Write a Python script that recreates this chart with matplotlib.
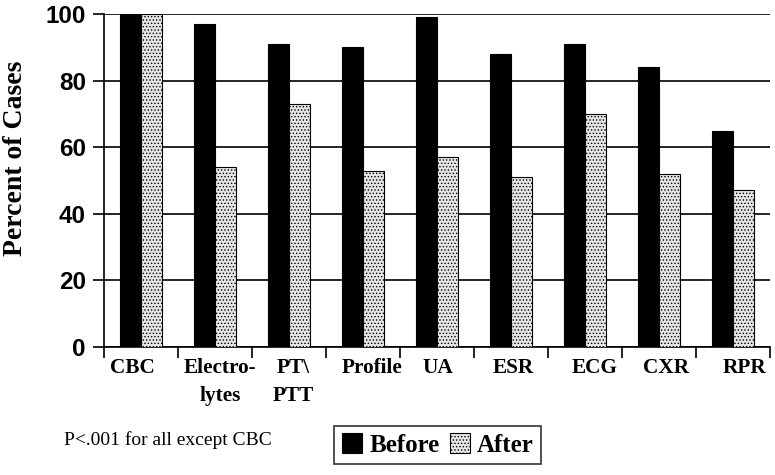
import numpy as np
import matplotlib
matplotlib.use('Agg')
import matplotlib.pyplot as plt

# data
tests = ['CBC', 'Electro-\nlytes', 'PT\\\nPTT', 'Profile', 'UA', 'ESR', 'ECG', 'CXR', 'RPR']
before = [100, 97, 91, 90, 99, 88, 91, 84, 65]
after = [100, 54, 73, 53, 57, 51, 70, 52, 47]
yticks = [0, 20, 40, 60, 80, 100]

# the scanned original has its category labels a little off centre (pixels)
label_shift = np.array([-8.5, 5, 4.5, 9, 1, 2, 10, 7, 11.5])

plt.rcParams['hatch.color'] = '#808080'
plt.rcParams['hatch.linewidth'] = 0.6

fig = plt.figure(figsize=(7.75, 4.75), dpi=100)
ax = fig.add_axes([104/775, 1 - 347/475, 666/775, 333/475])

x = np.arange(len(tests))
w = 0.284
ax.bar(x - w/2, before, w, color='black', edgecolor='black', linewidth=0.8, label='Before', zorder=3)
ax.bar(x + w/2, after, w, color='#e6e6e6', edgecolor='black', linewidth=0.8, hatch='.....', label='After', zorder=3)

ax.set_xlim(-0.5, len(tests) - 0.5)
ax.set_ylim(0, 100)
ax.set_yticks(yticks)
ax.set_yticklabels([str(v) for v in yticks], fontfamily='Liberation Sans', fontweight='bold', fontsize=17.5)
ax.yaxis.grid(True, color='black', linewidth=1.2, zorder=0)
ax.set_axisbelow(True)

# category ticks between groups, labels near the centre
ax.set_xticks(np.arange(len(tests) + 1) - 0.5)
ax.set_xticklabels([])
ax.set_xticks(x + label_shift / 74.0, minor=True)
ax.set_xticklabels(tests, minor=True, fontfamily='Liberation Serif', fontweight='bold', fontsize=15.3, linespacing=1.5, va='top')
ax.tick_params(axis='x', which='minor', length=0, pad=8)
ax.tick_params(axis='x', which='major', direction='out', length=8, width=1.2)
ax.tick_params(axis='y', direction='out', length=8, width=1.2, pad=5)

for s in ['top', 'right']:
    ax.spines[s].set_visible(False)
ax.spines['left'].set_linewidth(1.2)
ax.spines['bottom'].set_linewidth(1.2)

fig.text(16/775, 1 - 158/475, 'Percent of Cases', rotation=90, ha='center', va='center',
         fontfamily='Liberation Serif', fontweight='bold', fontsize=20)

fig.text(0.083, 0.063, 'P<.001 for all except CBC', fontfamily='Liberation Serif', fontsize=14)

leg = fig.legend(loc='center', bbox_to_anchor=(0.565, 0.063), ncol=2, frameon=True, fancybox=False,
                 edgecolor='black', handlelength=0.8, handleheight=0.8, handletextpad=0.3, columnspacing=0.4,
                 borderpad=0.3, prop={'family': 'Liberation Serif', 'weight': 'bold', 'size': 18})
leg.get_frame().set_linewidth(1.2)

plt.savefig('out.png', dpi=100)
